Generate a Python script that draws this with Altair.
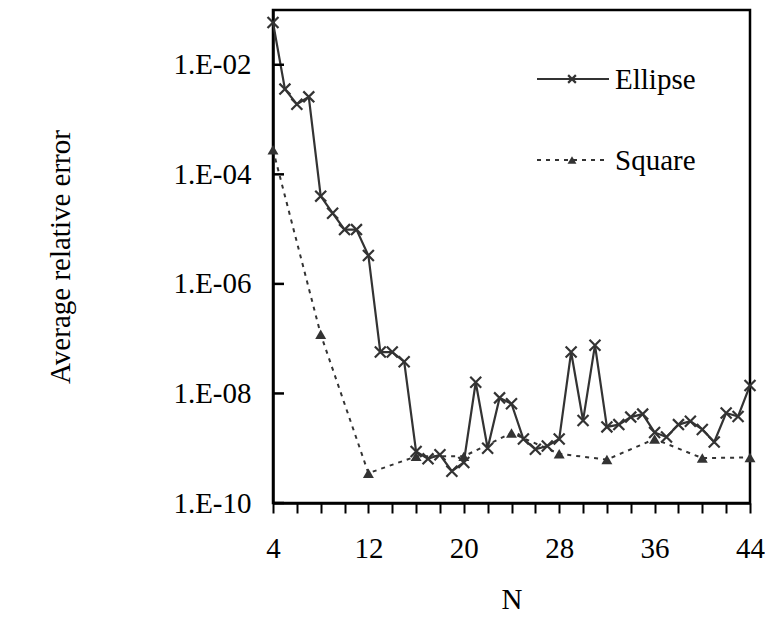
import altair as alt
import pandas as pd

# ---- data ----
n_ellipse = list(range(4, 45))
err_ellipse = [5.9e-2, 3.6e-3, 1.9e-3, 2.6e-3, 4.0e-5, 1.95e-5, 9.8e-6, 9.8e-6, 3.3e-6,
               5.7e-8, 5.7e-8, 3.8e-8, 8.7e-10, 6.4e-10, 7.6e-10, 3.8e-10, 5.5e-10,
               1.6e-8, 1.0e-9, 8.3e-9, 6.5e-9, 1.47e-9, 9.6e-10, 1.1e-9, 1.47e-9,
               5.7e-8, 3.2e-9, 7.6e-8, 2.45e-9, 2.7e-9, 3.7e-9, 4.2e-9, 1.94e-9,
               1.6e-9, 2.7e-9, 3.1e-9, 2.2e-9, 1.3e-9, 4.4e-9, 3.8e-9, 1.4e-8]
n_square = [4, 8, 12, 16, 20, 24, 28, 32, 36, 40, 44]
err_square = [2.8e-4, 1.2e-7, 3.5e-10, 7.1e-10, 7.1e-10, 1.9e-9, 7.9e-10,
              6.2e-10, 1.47e-9, 6.6e-10, 6.8e-10]
y_tick_values = [1e-2, 1e-4, 1e-6, 1e-8, 1e-10]
x_tick_values = list(range(4, 45, 2))
series_names = ["Ellipse", "Square"]

FONT = "'Liberation Serif', 'Times New Roman', Times, serif"
INK = "#333333"

ell = pd.DataFrame({"N": n_ellipse, "err": err_ellipse})
sq = pd.DataFrame({"N": n_square, "err": err_square})
yt = pd.DataFrame({"err": y_tick_values})

xscale = alt.Scale(domain=[4, 44], nice=False, zero=False)
yscale = alt.Scale(type="log", domain=[1e-10, 1e-1], nice=False)

x_axis = alt.Axis(
    values=x_tick_values,
    labelExpr="(datum.value - 4) % 8 == 0 ? datum.label : ''",
    tickSize=10, tickWidth=2, tickColor="black",
    domainColor="black", domainWidth=2.5,
    labelFont=FONT, labelFontSize=29, labelColor="black", labelPadding=21,
    labelFlush=False, labelOverlap=False,
    title="N", titleFont=FONT, titleFontSize=29, titleFontWeight="normal",
    titleColor="black", titlePadding=22, grid=False,
)
y_axis = alt.Axis(
    values=y_tick_values,
    labelExpr="'1.E-' + (round(-log(datum.value)/LN10) < 10 ? '0' : '') + round(-log(datum.value)/LN10)",
    ticks=False, domainColor="black", domainWidth=2.5,
    labelFont=FONT, labelFontSize=29, labelColor="black", labelPadding=22,
    labelFlush=False, labelOverlap=False,
    title="Average relative error", titleFont=FONT, titleFontSize=29,
    titleFontWeight="normal", titleColor="black",
    titleAngle=270, titleAlign="center", titleBaseline="middle",
    titleX=-213, titleY=246.5, grid=False,
)

X = alt.X("N:Q", scale=xscale, axis=x_axis)
Y = alt.Y("err:Q", scale=yscale, axis=y_axis)

cross_path = "M-1,-1L1,1M-1,1L1,-1"

ell_line = alt.Chart(ell).mark_line(color=INK, strokeWidth=2.2).encode(x=X, y=Y)
ell_pts = alt.Chart(ell).mark_point(shape=cross_path, size=120, filled=False,
                                    stroke=INK, strokeWidth=2.2, opacity=1).encode(x=X, y=Y)
sq_line = alt.Chart(sq).mark_line(color=INK, strokeWidth=2, strokeDash=[4, 5]).encode(x=X, y=Y)
sq_pts = alt.Chart(sq).mark_point(shape="triangle-up", size=120, filled=True,
                                  color=INK, opacity=1).encode(x=X, y=Y)

# inward y ticks
ticks = alt.Chart(yt).mark_rule(color="black", strokeWidth=2.5).encode(
    y=Y, x=alt.value(0), x2=alt.value(11))

# legend drawn inside the plot
leg = pd.DataFrame({"name": series_names})
leg_e = leg[leg.name == "Ellipse"]
leg_s = leg[leg.name == "Square"]
le_rule = alt.Chart(leg_e).mark_rule(color=INK, strokeWidth=2.2).encode(
    x=alt.value(264), x2=alt.value(336), y=alt.value(69))
le_pt = alt.Chart(leg_e).mark_point(shape=cross_path, size=60, filled=False,
                                    stroke=INK, strokeWidth=2.2, opacity=1).encode(
    x=alt.value(299), y=alt.value(69))
le_txt = alt.Chart(leg_e).mark_text(font=FONT, fontSize=29, align="left",
                                    baseline="middle", color="black").encode(
    x=alt.value(342), y=alt.value(70), text="name:N")
ls_rule = alt.Chart(leg_s).mark_rule(color=INK, strokeWidth=2, strokeDash=[4, 5]).encode(
    x=alt.value(264), x2=alt.value(336), y=alt.value(150))
ls_pt = alt.Chart(leg_s).mark_point(shape="triangle-up", size=80, filled=True,
                                    color=INK, opacity=1).encode(
    x=alt.value(299), y=alt.value(150))
ls_txt = alt.Chart(leg_s).mark_text(font=FONT, fontSize=29, align="left",
                                    baseline="middle", color="black").encode(
    x=alt.value(342), y=alt.value(151), text="name:N")

chart = alt.layer(
    ell_line, sq_line, ell_pts, sq_pts, ticks,
    le_rule, le_pt, le_txt, ls_rule, ls_pt, ls_txt,
).properties(
    width=477, height=493,
    autosize=alt.AutoSizeParams(type="none"),
    padding={"left": 265, "top": 2, "right": 15, "bottom": 110},
    background="white",
).configure_view(stroke="black", strokeWidth=2.5)

chart.save("out.html", embed_options={"renderer": "svg", "actions": False})
